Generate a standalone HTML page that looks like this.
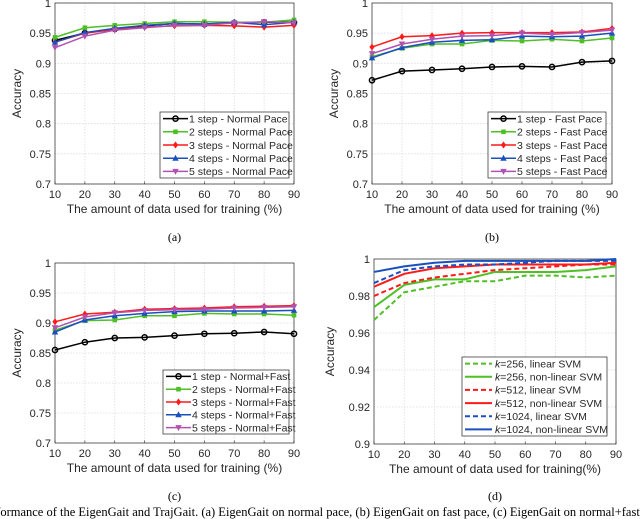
<!DOCTYPE html>
<html><head><meta charset="utf-8"><style>
body{margin:0;background:#fff;width:640px;height:519px;overflow:hidden}
svg{display:block}
text{font-family:"Liberation Sans",sans-serif;fill:#262626}
.cap{font-family:"Liberation Serif",serif;fill:#000}
</style></head><body>
<svg id="s" width="640" height="519" viewBox="0 0 640 519"></svg>
<script>
const xCats=[10,20,30,40,50,60,70,80,90];
const ticksStd=[0.7,0.75,0.8,0.85,0.9,0.95,1];
const tickLabStd=['0.7','0.75','0.8','0.85','0.9','0.95','1'];
const ticksD=[0.9,0.92,0.94,0.96,0.98,1];
const tickLabD=['0.9','0.92','0.94','0.96','0.98','1'];
const namesA=['1 step - Normal Pace','2 steps - Normal Pace','3 steps - Normal Pace','4 steps - Normal Pace','5 steps - Normal Pace'];
const namesB=['1 step - Fast Pace','2 steps - Fast Pace','3 steps - Fast Pace','4 steps - Fast Pace','5 steps - Fast Pace'];
const namesC=['1 step - Normal+Fast','2 steps - Normal+Fast','3 steps - Normal+Fast','4 steps - Normal+Fast','5 steps - Normal+Fast'];
const namesD=['=256, linear SVM','=256, non-linear SVM','=512, linear SVM','=512, non-linear SVM','=1024, linear SVM','=1024, non-linear SVM'];
const a1=[.938,.950,.957,.962,.966,.965,.967,.968,.968];
const a2=[.943,.959,.963,.966,.969,.969,.968,.968,.972];
const a3=[.935,.950,.956,.960,.962,.963,.962,.960,.963];
const a4=[.935,.951,.958,.963,.966,.965,.968,.964,.968];
const a5=[.926,.945,.955,.959,.963,.963,.967,.969,.967];
const b1=[.872,.887,.889,.891,.894,.895,.894,.902,.904];
const b2=[.911,.925,.932,.932,.938,.937,.940,.937,.942];
const b3=[.927,.944,.946,.950,.951,.951,.951,.952,.958];
const b4=[.909,.926,.935,.938,.939,.945,.944,.945,.950];
const b5=[.916,.932,.940,.945,.946,.950,.948,.951,.955];
const c1=[.855,.868,.875,.876,.879,.882,.883,.885,.882];
const c2=[.888,.904,.905,.912,.912,.916,.915,.915,.913];
const c3=[.902,.915,.918,.923,.924,.925,.927,.928,.929];
const c4=[.885,.905,.912,.916,.919,.920,.920,.920,.921];
const c5=[.892,.910,.917,.921,.922,.923,.925,.926,.927];
const d1=[.967,.982,.985,.988,.988,.991,.991,.990,.991];
const d2=[.974,.986,.989,.989,.993,.993,.993,.994,.996];
const d3=[.980,.987,.990,.992,.994,.995,.996,.997,.997];
const d4=[.985,.992,.995,.996,.997,.997,.997,.997,.998];
const d5=[.987,.994,.996,.997,.997,.998,.999,.999,.999];
const d6=[.993,.996,.998,.999,.999,.999,.999,.999,1.0];

const NS='http://www.w3.org/2000/svg';
const svg=document.getElementById('s');
function el(t,at,p){const e=document.createElementNS(NS,t);for(const k in at)e.setAttribute(k,at[k]);(p||svg).appendChild(e);return e;}
const COLS=['#000000','#4fbf26','#ff1a1a','#1a4fbf','#b052b0'];
const MK=['circle','square','diamond','up','down'];
function marker(g,type,x,y,c){
  if(type==='circle')return el('circle',{cx:x,cy:y,r:2.6,fill:'none',stroke:c,'stroke-width':1.5},g);
  if(type==='square')return el('rect',{x:x-2.3,y:y-2.3,width:4.6,height:4.6,fill:c},g);
  if(type==='diamond')return el('polygon',{points:`${x},${y-3.5} ${x+2.6},${y} ${x},${y+3.5} ${x-2.6},${y}`,fill:c},g);
  if(type==='up')return el('polygon',{points:`${x},${y-3.5} ${x+3.2},${y+2.5} ${x-3.2},${y+2.5}`,fill:c},g);
  return el('polygon',{points:`${x},${y+3.5} ${x+3.2},${y-2.5} ${x-3.2},${y-2.5}`,fill:c},g);
}
function panel(o){
  const g=el('g',{});
  
  
  const X=v=>o.x0+(v-10)/80*(o.x1-o.x0);
  const Y=v=>o.y1-(v-o.ymin)/(o.ymax-o.ymin)*(o.y1-o.y0);
  for(const v of xCats){
    el('line',{x1:X(v),x2:X(v),y1:o.y0,y2:o.y1,stroke:'#dcdcdc','stroke-width':0.8,'stroke-dasharray':'1.5,1.5'},g);
    const t=el('text',{x:X(v),y:o.y1+14,'font-size':11,'text-anchor':'middle'},g);t.textContent=v;
    el('line',{x1:X(v),x2:X(v),y1:o.y1,y2:o.y1-2.5,stroke:'#262626','stroke-width':0.6},g);
  }
  o.ticks.forEach((v,i)=>{
    el('line',{x1:o.x0,x2:o.x1,y1:Y(v),y2:Y(v),stroke:'#dcdcdc','stroke-width':0.8,'stroke-dasharray':'1.5,1.5'},g);
    const t=el('text',{x:o.x0-4,y:Y(v)+4,'font-size':11,'text-anchor':'end'},g);t.textContent=o.tickLab[i];
  });
  el('rect',{x:o.x0,y:o.y0,width:o.x1-o.x0,height:o.y1-o.y0,fill:'none',stroke:'#262626','stroke-width':0.7},g);
  const xl=el('text',{x:(o.x0+o.x1)/2,y:o.y1+29,'font-size':12,'text-anchor':'middle'},g);xl.textContent=o.xlab;
  
  const cy=(o.y0+o.y1)/2, cx=o.x0-(o.d?40:34);
  const yl=el('text',{x:cx,y:cy,'font-size':12,'text-anchor':'middle',transform:`rotate(-90 ${cx} ${cy})`},g);yl.textContent='Accuracy';
  
  o.series.forEach((s,i)=>{
    const c=o.d?['#4fbf26','#4fbf26','#ff1a1a','#ff1a1a','#1a4fbf','#1a4fbf'][i]:COLS[i];
    const pts=s.map((v,j)=>X(xCats[j])+','+Y(v)).join(' ');
    const pl=el('polyline',{points:pts,fill:'none',stroke:c,'stroke-width':o.d?2:1.5,'stroke-dasharray':o.d&&i%2===0?'5,3':'none'},g);
    
    
    if(!o.d)s.forEach((v,j)=>marker(g,MK[i],X(xCats[j]),Y(v),c));
  });
  const L=o.leg;
  const lg=el('g',{},g);
  
  
  el('rect',{x:L.x,y:L.y,width:L.w,height:L.h,fill:'#fff',stroke:'#262626','stroke-width':0.7},lg);
  const n=o.names.length, rh=L.h/n;
  o.names.forEach((nm,i)=>{
    const yy=L.y+rh*(i+0.5);
    const c=o.d?['#4fbf26','#4fbf26','#ff1a1a','#ff1a1a','#1a4fbf','#1a4fbf'][i]:COLS[i];
    el('line',{x1:L.x+3,x2:L.x+(o.d?30:28),y1:yy,y2:yy,stroke:c,'stroke-width':o.d?2:1.5,'stroke-dasharray':o.d&&i%2===0?'5,3':'none'},lg);
    if(!o.d)marker(lg,MK[i],L.x+15.5,yy,c);
    const t=el('text',{x:L.x+(o.d?33:29),y:yy+3.8,'font-size':10.5},lg);
    
    
    if(o.d){const k=el('tspan',{'font-style':'italic'},t);k.textContent='k';const r=el('tspan',{},t);r.textContent=nm;}
    else t.textContent=nm;
  });
  const cl=el('text',{x:(o.x0+o.x1)/2,y:o.capY,'font-size':12,'text-anchor':'middle',class:'cap'},g);cl.textContent=o.cap;
  
}
const XL='The amount of data used for training (%)';
panel({name:'chart-a',x0:55,x1:294,y0:3,y1:184,ymin:.7,ymax:1,ticks:ticksStd,tickLab:tickLabStd,series:[a1,a2,a3,a4,a5],names:namesA,leg:{x:160,y:112,w:129,h:66},xlab:XL,cap:'(a)',capY:241});
panel({name:'chart-b',x0:372,x1:612,y0:3,y1:184,ymin:.7,ymax:1,ticks:ticksStd,tickLab:tickLabStd,series:[b1,b2,b3,b4,b5],names:namesB,leg:{x:488,y:112,w:118,h:66},xlab:XL,cap:'(b)',capY:241});
panel({name:'chart-c',x0:55,x1:294,y0:263,y1:443,ymin:.7,ymax:1,ticks:ticksStd,tickLab:tickLabStd,series:[c1,c2,c3,c4,c5],names:namesC,leg:{x:163,y:370,w:126,h:64},xlab:XL,cap:'(c)',capY:500});
panel({name:'chart-d',d:true,x0:374,x1:616,y0:259,y1:444,ymin:.9,ymax:1,ticks:ticksD,tickLab:tickLabD,series:[d1,d2,d3,d4,d5,d6],names:namesD,leg:{x:462,y:357,w:145,h:79},xlab:'The amount of data used for training(%)',cap:'(d)',capY:500});
const c=el('text',{x:-8,y:516,'font-size':12.5,class:'cap'});


c.textContent='rformance of the EigenGait and TrajGait. (a) EigenGait on normal pace, (b) EigenGait on fast pace, (c) EigenGait on normal+fast pace';
</script>
</body></html>
